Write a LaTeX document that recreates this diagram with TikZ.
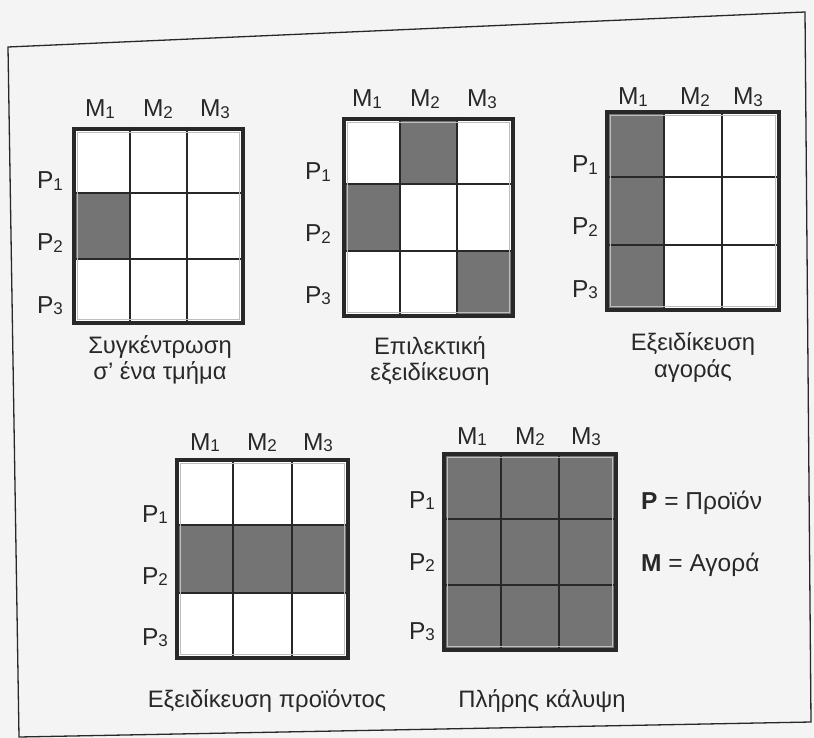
\documentclass[tikz,border=0pt]{standalone}
\usepackage{fontspec}
\setmainfont{Liberation Sans}
\usepackage{xcolor}
\usetikzlibrary{positioning}
\definecolor{inkdark}{RGB}{40,40,40}
\definecolor{cellgray}{RGB}{116,116,116}
\definecolor{paper}{RGB}{244,244,244}
\definecolor{rimgray}{RGB}{190,190,190}

\newcommand{\pmsub}[2]{#1\raisebox{-0.12ex}{\fontsize{17}{17}\selectfont #2}}

% one 3x3 grid: x0,y0,x1,y1 and the shaded cells as row/col
\newcommand{\pmgrid}[5]{%
  \fill[white] (#1,#2) rectangle (#3,#4);
  \pgfmathsetmacro\cw{(#3-#1)/3}
  \pgfmathsetmacro\ch{(#4-#2)/3}
  \foreach \r/\c in {#5}
    \fill[cellgray] ({#1+(\c-1)*\cw},{#2+(\r-1)*\ch}) rectangle ++(\cw,\ch);
  \foreach \k in {1,2} {
    \draw[cellrule] ({#1+\k*\cw},#2) -- ({#1+\k*\cw},#4);
    \draw[cellrule] (#1,{#2+\k*\ch}) -- (#3,{#2+\k*\ch});
  }
  \draw[gridrim] (#1+5.5,#2+5.5) rectangle (#3-5.5,#4-5.5);
  \draw[gridframe] (#1+2,#2+2) rectangle (#3-2,#4-2);
}

\tikzset{
  cellrule/.style={draw=inkdark, line width=1.8pt},
  gridrim/.style={draw=rimgray, line width=0.9pt},
  gridframe/.style={draw=inkdark, line width=4pt},
  pmlabel/.style={font=\fontsize{24.5}{28}\selectfont, text=inkdark, inner sep=0pt, anchor=base},
  pmcaption/.style={font=\fontsize{23.8}{27}\selectfont, text=inkdark, inner sep=0pt, anchor=base},
  legendtext/.style={pmlabel, anchor=base west}
}

\begin{document}
\begin{tikzpicture}[x=1pt, y=-1pt]
\useasboundingbox (0,0) rectangle (814,738);
\fill[paper] (0,0) rectangle (814,738);
% outer frame (scanned, slightly skewed)
\draw[inkdark, line width=1.3pt] (8,47) -- (805,12) -- (811,722) -- (19,737) -- cycle;

% grids
\pmgrid{72}{127}{245}{325}{2/1}
\pmgrid{342}{117}{515}{318}{1/2,2/1,3/3}
\pmgrid{605}{110}{781}{312}{1/1,2/1,3/1}
\pmgrid{175}{458}{350}{660}{2/1,2/2,2/3}
\pmgrid{442}{452}{618}{652}{1/1,1/2,1/3,2/1,2/2,2/3,3/1,3/2,3/3}

% market labels
\foreach \xx [count=\i] in {100,158,215} \node[pmlabel] (ga\i) at (\xx,117) {\pmsub{M}{\i}};
\foreach \xx [count=\i] in {367,425,482} \node[pmlabel] (gb\i) at (\xx,107) {\pmsub{M}{\i}};
\foreach \xx [count=\i] in {633,695,748} \node[pmlabel] (gc\i) at (\xx,105) {\pmsub{M}{\i}};
\foreach \xx [count=\i] in {205,262,318} \node[pmlabel] (gd\i) at (\xx,450) {\pmsub{M}{\i}};
\foreach \xx [count=\i] in {472,530,586} \node[pmlabel] (ge\i) at (\xx,444) {\pmsub{M}{\i}};

% product labels
\foreach \yy [count=\i] in {189,251,313} \node[pmlabel] (pa\i) at (50,\yy) {\pmsub{P}{\i}};
\foreach \yy [count=\i] in {180,242,303} \node[pmlabel] (pb\i) at (318,\yy) {\pmsub{P}{\i}};
\foreach \yy [count=\i] in {173,235,297} \node[pmlabel] (pc\i) at (585,\yy) {\pmsub{P}{\i}};
\foreach \yy [count=\i] in {522,584,645} \node[pmlabel] (pd\i) at (155,\yy) {\pmsub{P}{\i}};
\foreach \yy [count=\i] in {508,570,639} \node[pmlabel] (pe\i) at (422,\yy) {\pmsub{P}{\i}};

% captions
\node[pmcaption] (capa1) at (160,353) {Συγκέντρωση};
\node[pmcaption] (capa2) at (160,379) {σ’ ένα τμήμα};
\node[pmcaption] (capb1) at (430,354) {Επιλεκτική};
\node[pmcaption] (capb2) at (430,380) {εξειδίκευση};
\node[pmcaption] (capc1) at (693,350) {Εξειδίκευση};
\node[pmcaption] (capc2) at (693,377) {αγοράς};
\node[pmcaption] (capd) at (267,707) {Εξειδίκευση προϊόντος};
\node[pmcaption] (cape) at (542,707) {Πλήρης κάλυψη};

% legend
\node[legendtext] (keyp) at (641,509) {\textbf{P} = Προϊόν};
\node[legendtext] (keym) at (641,571) {\textbf{M} = Αγορά};
\end{tikzpicture}
\end{document}
